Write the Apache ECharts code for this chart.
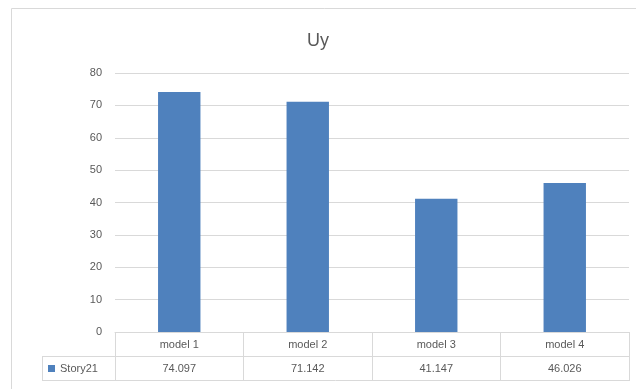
<!DOCTYPE html>
<html>
<head>
<meta charset="utf-8">
<script src="https://cdn.jsdelivr.net/npm/echarts@6/dist/echarts.min.js"></script>
<style>
  html, body { margin: 0; padding: 0; background: #fff; }
  #chart { width: 636px; height: 389px; }
</style>
</head>
<body>
<div id="chart"></div>
<script>
var categories = ['model 1', 'model 2', 'model 3', 'model 4'];
var story21 = [74.097, 71.142, 41.147, 46.026];
var yTicks = [0, 10, 20, 30, 40, 50, 60, 70, 80];

var chartDom = document.getElementById('chart');
var myChart = echarts.init(chartDom);

var gridCol = '#d9d9d9';
var txtCol = '#595959';
var font = 'Liberation Sans';

var option = {
    animation: false,
    title: {
        text: 'Uy',
        left: 'center',
        top: 27,
        textStyle: { color: txtCol, fontSize: 18, fontWeight: 'normal', fontFamily: font }
    },
    legend: {
        data: ['Story21'],
        left: 48,
        top: 363,
        icon: 'rect',
        itemWidth: 7,
        itemHeight: 7,
        itemGap: 3,
        padding: 0,
        textStyle: { color: txtCol, fontSize: 11, fontFamily: font }
    },
    grid: { left: 115, right: 7, top: 73, bottom: 57 },
    xAxis: [{
        type: 'category',
        data: categories,
        axisLine: { lineStyle: { color: gridCol } },
        axisTick: { show: true, length: 49, lineStyle: { color: gridCol } },
        axisLabel: { color: txtCol, fontSize: 11, fontFamily: font, margin: 7 }
    }, {
        type: 'category',
        position: 'bottom',
        offset: 24,
        data: story21.map(function (v) { return v.toFixed(3); }),
        axisLine: { lineStyle: { color: gridCol } },
        axisTick: { show: false },
        axisLabel: { color: txtCol, fontSize: 11, fontFamily: font, margin: 7 }
    }],
    yAxis: {
        type: 'value',
        min: yTicks[0],
        max: yTicks[yTicks.length - 1],
        interval: 10,
        axisLine: { show: false },
        axisTick: { show: false },
        axisLabel: { color: txtCol, fontSize: 11, fontFamily: font, margin: 13 },
        splitLine: { lineStyle: { color: gridCol } }
    },
    series: [{
        name: 'Story21',
        type: 'bar',
        data: story21,
        barWidth: '33%',
        itemStyle: { color: '#4f81bd' }
    }],
    graphic: [
        { type: 'rect', shape: { x: 11.5, y: 8.5, width: 640, height: 390 },
          style: { fill: null, stroke: gridCol, lineWidth: 1 }, silent: true },
        { type: 'line', shape: { x1: 42, y1: 380.5, x2: 629, y2: 380.5 },
          style: { stroke: gridCol, lineWidth: 1 } },
        { type: 'line', shape: { x1: 42, y1: 356.5, x2: 115, y2: 356.5 },
          style: { stroke: gridCol, lineWidth: 1 } },
        { type: 'line', shape: { x1: 42.5, y1: 356, x2: 42.5, y2: 381 },
          style: { stroke: gridCol, lineWidth: 1 } }
    ]
};

option && myChart.setOption(option);
</script>
</body>
</html>
